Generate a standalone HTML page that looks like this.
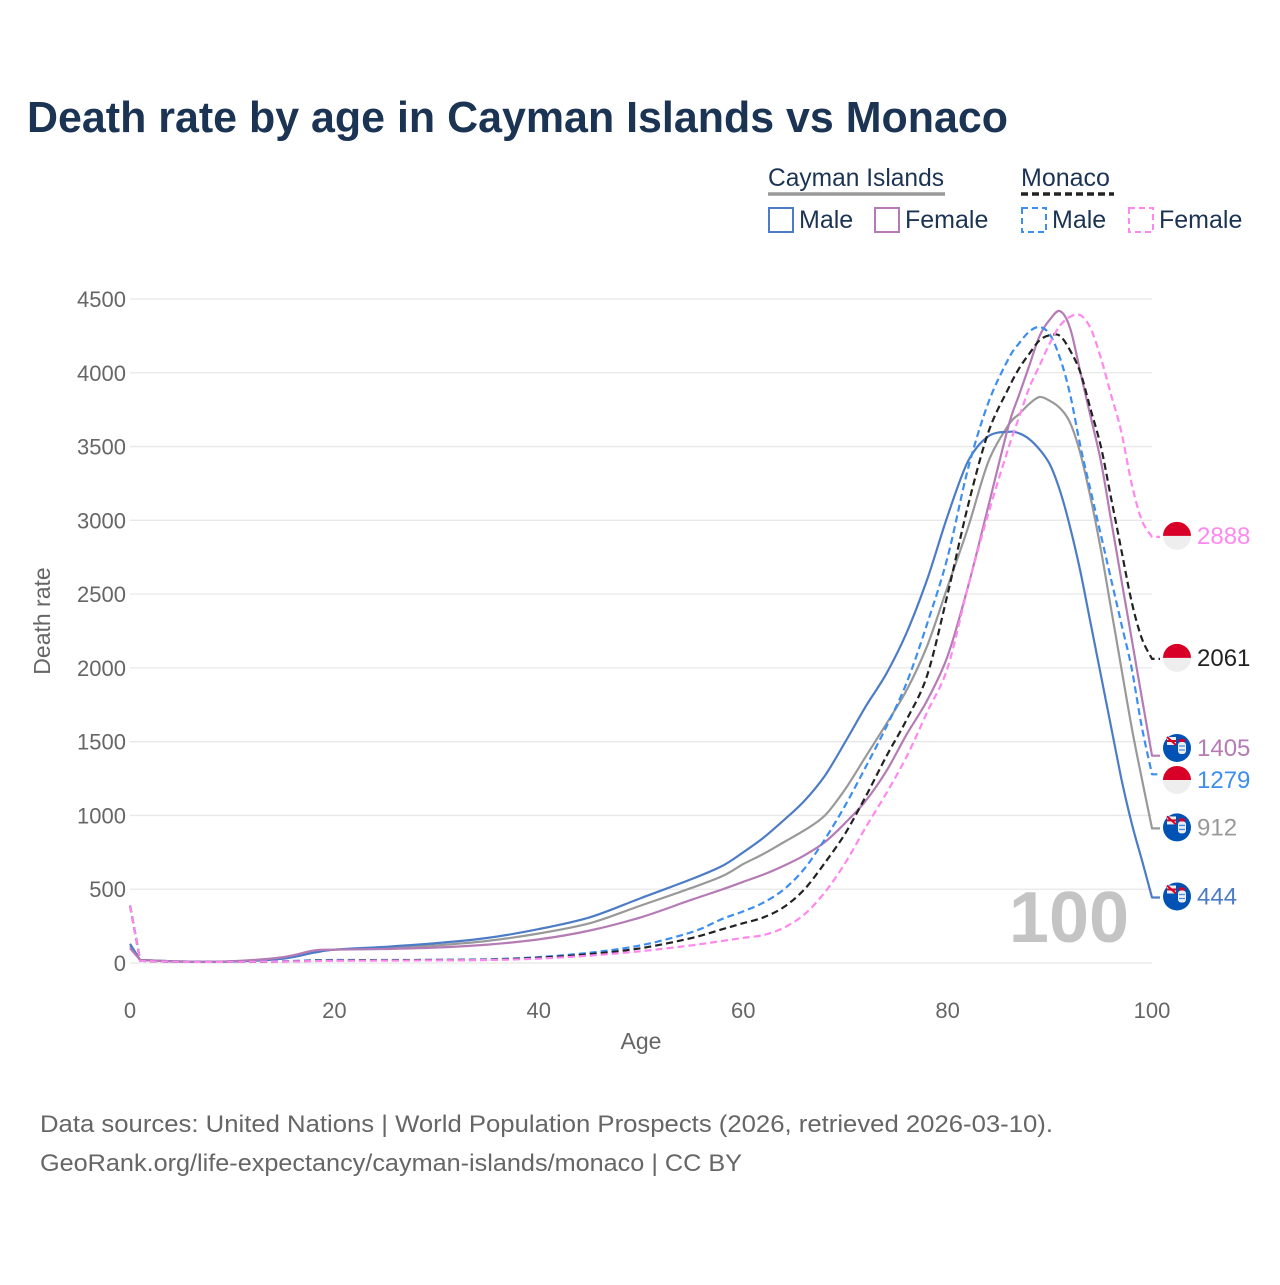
<!DOCTYPE html>
<html><head><meta charset="utf-8">
<style>
body{margin:0;background:#fff;}
svg text{font-family:"Liberation Sans",sans-serif;}
</style></head>
<body>
<svg id="chart" width="1280" height="1280" viewBox="0 0 1280 1280" xmlns="http://www.w3.org/2000/svg">
<rect width="1280" height="1280" fill="#fff"/>
<text x="27" y="132" font-size="44" font-weight="bold" fill="#1b3454" textLength="981" lengthAdjust="spacingAndGlyphs">Death rate by age in Cayman Islands vs Monaco</text>
<g>
 <text x="768" y="186" font-size="25" fill="#1b3454" textLength="176" lengthAdjust="spacingAndGlyphs">Cayman Islands</text>
 <line x1="768" y1="194" x2="945" y2="194" stroke="#999" stroke-width="3.5"/>
 <text x="1021" y="186" font-size="25" fill="#1b3454">Monaco</text>
 <line x1="1021" y1="194" x2="1114" y2="194" stroke="#222" stroke-width="3.5" stroke-dasharray="7,4"/>
 <g><rect x="769" y="208" width="24" height="24" fill="none" stroke="#4d7cc7" stroke-width="2"/><text x="799" y="228" font-size="25" fill="#1b3454">Male</text></g>
 <g><rect x="875" y="208" width="24" height="24" fill="none" stroke="#b57bb5" stroke-width="2"/><text x="905" y="228" font-size="25" fill="#1b3454">Female</text></g>
 <g><rect x="1022" y="208" width="24" height="24" fill="none" stroke="#3d8ef0" stroke-width="2" stroke-dasharray="6,4"/><text x="1052" y="228" font-size="25" fill="#1b3454">Male</text></g>
 <g><rect x="1129" y="208" width="24" height="24" fill="none" stroke="#ff88ee" stroke-width="2" stroke-dasharray="6,4"/><text x="1159" y="228" font-size="25" fill="#1b3454">Female</text></g>
</g>
<g id="grid"></g>
<g id="series"></g>
<g id="ends"></g>
<text x="1069" y="942" font-size="72" font-weight="bold" fill="#c4c4c4" text-anchor="middle">100</text>
<text x="641" y="1049" font-size="23" fill="#666" text-anchor="middle">Age</text>
<text transform="translate(50,621) rotate(-90)" font-size="23" fill="#666" text-anchor="middle">Death rate</text>
<text x="40" y="1132" font-size="24" fill="#666" textLength="1013" lengthAdjust="spacingAndGlyphs">Data sources: United Nations | World Population Prospects (2026, retrieved 2026-03-10).</text>
<text x="40" y="1171" font-size="24" fill="#666" textLength="702" lengthAdjust="spacingAndGlyphs">GeoRank.org/life-expectancy/cayman-islands/monaco | CC BY</text>
</svg>
<script>
const ages=[0,1,5,10,15,18,20,25,30,35,40,45,50,55,58,60,62,64,66,68,70,72,74,76,78,80,82,84,86,87,88,89,90,91,92,93,94,95,96,97,98,99,100];
const caymanMale=[130,20,10,10,30,70,90,110,135,170,230,310,440,570,660,750,850,970,1100,1270,1500,1740,1960,2240,2600,3030,3400,3570,3600,3590,3550,3480,3380,3200,2950,2650,2300,1950,1600,1250,950,700,444];
const caymanFemale=[100,20,10,12,40,85,90,95,105,125,160,220,310,430,500,550,600,660,730,820,950,1100,1300,1550,1780,2080,2550,3100,3650,3850,4050,4250,4360,4418,4300,4000,3700,3400,3000,2600,2200,1800,1405];
const caymanTotal=[115,20,10,11,35,75,90,105,120,150,200,270,390,510,590,670,740,820,900,1000,1180,1400,1620,1850,2150,2550,2950,3400,3650,3720,3790,3836,3810,3760,3660,3450,3150,2800,2400,2000,1600,1250,912];
const monacoMale=[390,15,8,8,12,18,20,20,22,25,40,70,120,210,300,350,410,500,640,840,1070,1330,1600,1900,2300,2750,3350,3800,4100,4200,4280,4310,4260,4100,3850,3500,3200,2900,2600,2300,2000,1600,1279];
const monacoTotal=[390,15,8,8,10,15,17,18,20,22,35,60,100,170,230,270,310,380,500,680,880,1130,1400,1650,1950,2500,3100,3600,3900,4030,4130,4220,4255,4250,4150,4000,3750,3500,3150,2800,2450,2200,2061];
const monacoFemale=[390,15,8,8,10,13,15,16,18,20,30,50,80,120,150,170,190,240,330,480,680,920,1150,1400,1700,2000,2550,3050,3500,3700,3900,4050,4200,4320,4380,4390,4300,4100,3850,3600,3250,3000,2888];
const yTicks=[0,500,1000,1500,2000,2500,3000,3500,4000,4500];
const xTicks=[0,20,40,60,80,100];
const NS="http://www.w3.org/2000/svg";
const X=a=>130+a*10.22;
const Y=v=>963-v*664/4500;
function mk(tag,attrs,parent){const e=document.createElementNS(NS,tag);for(const k in attrs)e.setAttribute(k,attrs[k]);parent.appendChild(e);return e;}
const grid=document.getElementById('grid');
yTicks.forEach(t=>{
 const l=mk('line',{x1:130,x2:1152,y1:Y(t),y2:Y(t),stroke:'#e8e8e8','stroke-width':1.3},grid);
 
 
 const tx=mk('text',{x:126,y:Y(t)+8,'font-size':22,fill:'#666','text-anchor':'end'},grid);
 tx.textContent=t;
 
 
});
xTicks.forEach(t=>{
 const tx=mk('text',{x:X(t),y:1018,'font-size':22,fill:'#666','text-anchor':'middle'},grid);
 tx.textContent=t;
 
 
});
const series=[
 {name:'cayman-total',vals:caymanTotal,color:'#999',dash:null,flag:'ky'},
 {name:'cayman-male',vals:caymanMale,color:'#4d7cc7',dash:null,flag:'ky'},
 {name:'cayman-female',vals:caymanFemale,color:'#b57bb5',dash:null,flag:'ky'},
 {name:'monaco-male',vals:monacoMale,color:'#3d8ef0',dash:'7,4',flag:'mc'},
 {name:'monaco-total',vals:monacoTotal,color:'#222',dash:'7,4',flag:'mc'},
 {name:'monaco-female',vals:monacoFemale,color:'#ff88ee',dash:'7,4',flag:'mc'}
];
function smoothPath(pts){
 let d='M'+pts[0][0].toFixed(1)+','+pts[0][1].toFixed(1);
 d+='L'+pts[1][0].toFixed(1)+','+pts[1][1].toFixed(1);
 for(let i=1;i<pts.length-1;i++){
  const p0=pts[Math.max(0,i-1)],p1=pts[i],p2=pts[i+1],p3=pts[Math.min(pts.length-1,i+2)];
  const t=0.16;
  const c1x=p1[0]+(p2[0]-(i===1?p1[0]:p0[0]))*t, c1y=p1[1]+(p2[1]-(i===1?p1[1]:p0[1]))*t;
  const c2x=p2[0]-(p3[0]-p1[0])*t, c2y=p2[1]-(p3[1]-p1[1])*t;
  d+='C'+c1x.toFixed(1)+','+c1y.toFixed(1)+' '+c2x.toFixed(1)+','+c2y.toFixed(1)+' '+p2[0].toFixed(1)+','+p2[1].toFixed(1);
 }
 return d;
}
const sg=document.getElementById('series');
series.forEach(s=>{
 const pts=ages.map((a,i)=>[X(a),Y(s.vals[i])]);
 let d=smoothPath(pts);
 d+='L1160,'+Y(s.vals[s.vals.length-1]).toFixed(1);
 const p=mk('path',{d:d,fill:'none',stroke:s.color,'stroke-width':2.2,'stroke-linejoin':'round'},sg);
 if(s.dash)p.setAttribute('stroke-dasharray',s.dash);
 
 
});
const ends=series.map(s=>({s:s,v:s.vals[s.vals.length-1],y:Y(s.vals[s.vals.length-1])})).sort((a,b)=>a.y-b.y);
for(let i=1;i<ends.length;i++){if(ends[i].y-ends[i-1].y<32){const mid=(ends[i].y+ends[i-1].y)/2;ends[i-1].y=mid-16;ends[i].y=mid+16;}}
const eg=document.getElementById('ends');
ends.forEach(e=>{
 const g=mk('g',{},eg);
 
 
 const cx=1177,cy=e.y-1;
 if(e.s.flag==='mc'){
  mk('circle',{cx:cx,cy:cy,r:14,fill:'#eeeeee'},g);
  mk('path',{d:`M${cx-14},${cy} A14,14 0 0 1 ${cx+14},${cy} Z`,fill:'#d80027'},g);
 }else{
  mk('circle',{cx:cx,cy:cy,r:14,fill:'#0052b4'},g);
  mk('rect',{x:cx-10,y:cy-11,width:9,height:8,fill:'#eee'},g);
  mk('path',{d:`M${cx-10},${cy-11}L${cx-1},${cy-3}M${cx-10},${cy-7}H${cx-1}`,stroke:'#d80027','stroke-width':2},g);
  mk('rect',{x:cx+1,y:cy-6,width:8,height:12,rx:3,fill:'#eee'},g);
  mk('rect',{x:cx+2,y:cy-9,width:6,height:3,fill:'#d80027'},g);
  mk('path',{d:`M${cx+2},${cy-2}h6M${cx+2},${cy+2}h6`,stroke:'#3d8ef0','stroke-width':1.3},g);
 }
 const t=mk('text',{x:1197,y:cy+8,'font-size':24,fill:e.s.color},g);
 t.textContent=e.v;
});
</script>
</body></html>
